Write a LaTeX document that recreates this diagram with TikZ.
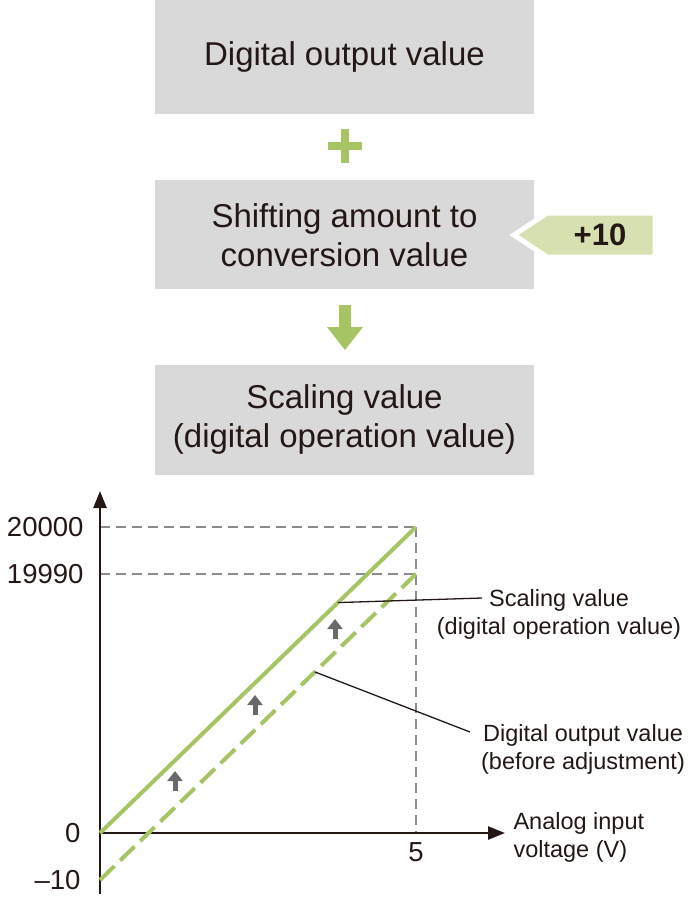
\documentclass[tikz,border=0pt]{standalone}
\usepackage{fontspec}
\setmainfont{Liberation Sans}
\usetikzlibrary{positioning,arrows.meta}

\definecolor{boxgray}{RGB}{217,217,217}
\definecolor{olive}{RGB}{166,196,100}
\definecolor{tagfill}{RGB}{214,224,176}
\definecolor{ink}{RGB}{35,24,21}
\definecolor{guide}{RGB}{140,140,140}
\definecolor{markgray}{RGB}{105,105,105}

\tikzset{
  box/.style={fill=boxgray, minimum width=379pt, align=center, inner sep=0pt,
    font=\fontsize{33}{39}\selectfont},
  axis/.style={line width=2.5pt, draw=ink, -{Triangle[length=17pt,width=13pt]}},
  guideline/.style={guide, line width=1.2pt, dash pattern=on 10pt off 6pt},
  scaled/.style={olive, line width=4pt},
  raw/.style={olive, line width=4pt, dash pattern=on 20pt off 8pt},
  lift/.style={markgray, line width=5pt, -{Triangle[length=10pt,width=15pt]}},
  leader/.style={ink, line width=1.3pt},
  note/.style={align=center, font=\fontsize{23.5}{28}\selectfont},
  tick/.style={font=\fontsize{27.5}{32}\selectfont}
}

\begin{document}
\begin{tikzpicture}[x=1pt, y=-1pt, text=ink]
  \useasboundingbox (0,0) rectangle (690,900);

  % blocks
  \node[box, minimum height=114pt] (dout) at (344.5,57) {Digital output value};
  \node[box, minimum height=109pt, below=66pt of dout] (shift) {Shifting amount to\\conversion value};
  \node[box, minimum height=110pt, below=75pt of shift] (scal) {Scaling value\\(digital operation value)};

  % plus and arrow
  \fill[olive] (328,142) rectangle (362,150);
  \fill[olive] (341,129) rectangle (349,163);
  \fill[olive] (339,305) -- (351,305) -- (351,327) -- (363,327) -- (345,350) -- (327,327) -- (339,327) -- cycle;

  % +10 tag
  \draw[white, line width=5pt, fill=tagfill] (547,213) -- (655,213) -- (655,257) -- (547,257) -- (514,235) -- cycle;
  \node[font=\bfseries\fontsize{31}{36}\selectfont] (offset) at (600,235) {+10};

  % graph
  \coordinate (o) at (100,833);
  \coordinate (top) at (416,527);
  \coordinate (low) at (100,880);
  \coordinate (lowtop) at (416,574);

  \draw[guideline] (o |- top) -- (top);
  \draw[guideline] (o |- lowtop) -- (lowtop);
  \draw[guideline] (top) -- (top |- o);

  \draw[axis] (100,894) -- (100,491);
  \draw[axis] (100,833) -- (505,833);

  \draw[scaled] (o) -- coordinate[pos=0.753] (sl) (top);
  \draw[raw] (low) -- coordinate[pos=0.68] (rl) (lowtop);

  \foreach \x/\y in {175/781, 255/705, 335/629}
    \draw[lift] (\x,\y+10) -- (\x,\y-10);

  \node[tick, anchor=east] (y20000) at (87,527) {20000};
  \node[tick, anchor=east] (y19990) at (87,574) {19990};
  \node[tick, anchor=east] (y0) at (84,833) {0};
  \node[tick, anchor=east] (ym10) at (84,880) {--10};
  \node[tick] (x5) at (416,852) {5};
  \node[note, align=left, anchor=west] (xlab) at (510,837) {Analog input\\voltage (V)};

  \node[note] (scnote) at (559,614) {Scaling value\\(digital operation value)};
  \node[note] (rawnote) at (583,749) {Digital output value\\(before adjustment)};
  \coordinate (scend) at (482,598);
  \coordinate (rawend) at (470,732);

  \draw[leader] (sl) -- (scend);
  \draw[leader] (rl) -- (rawend);
\end{tikzpicture}
\end{document}
